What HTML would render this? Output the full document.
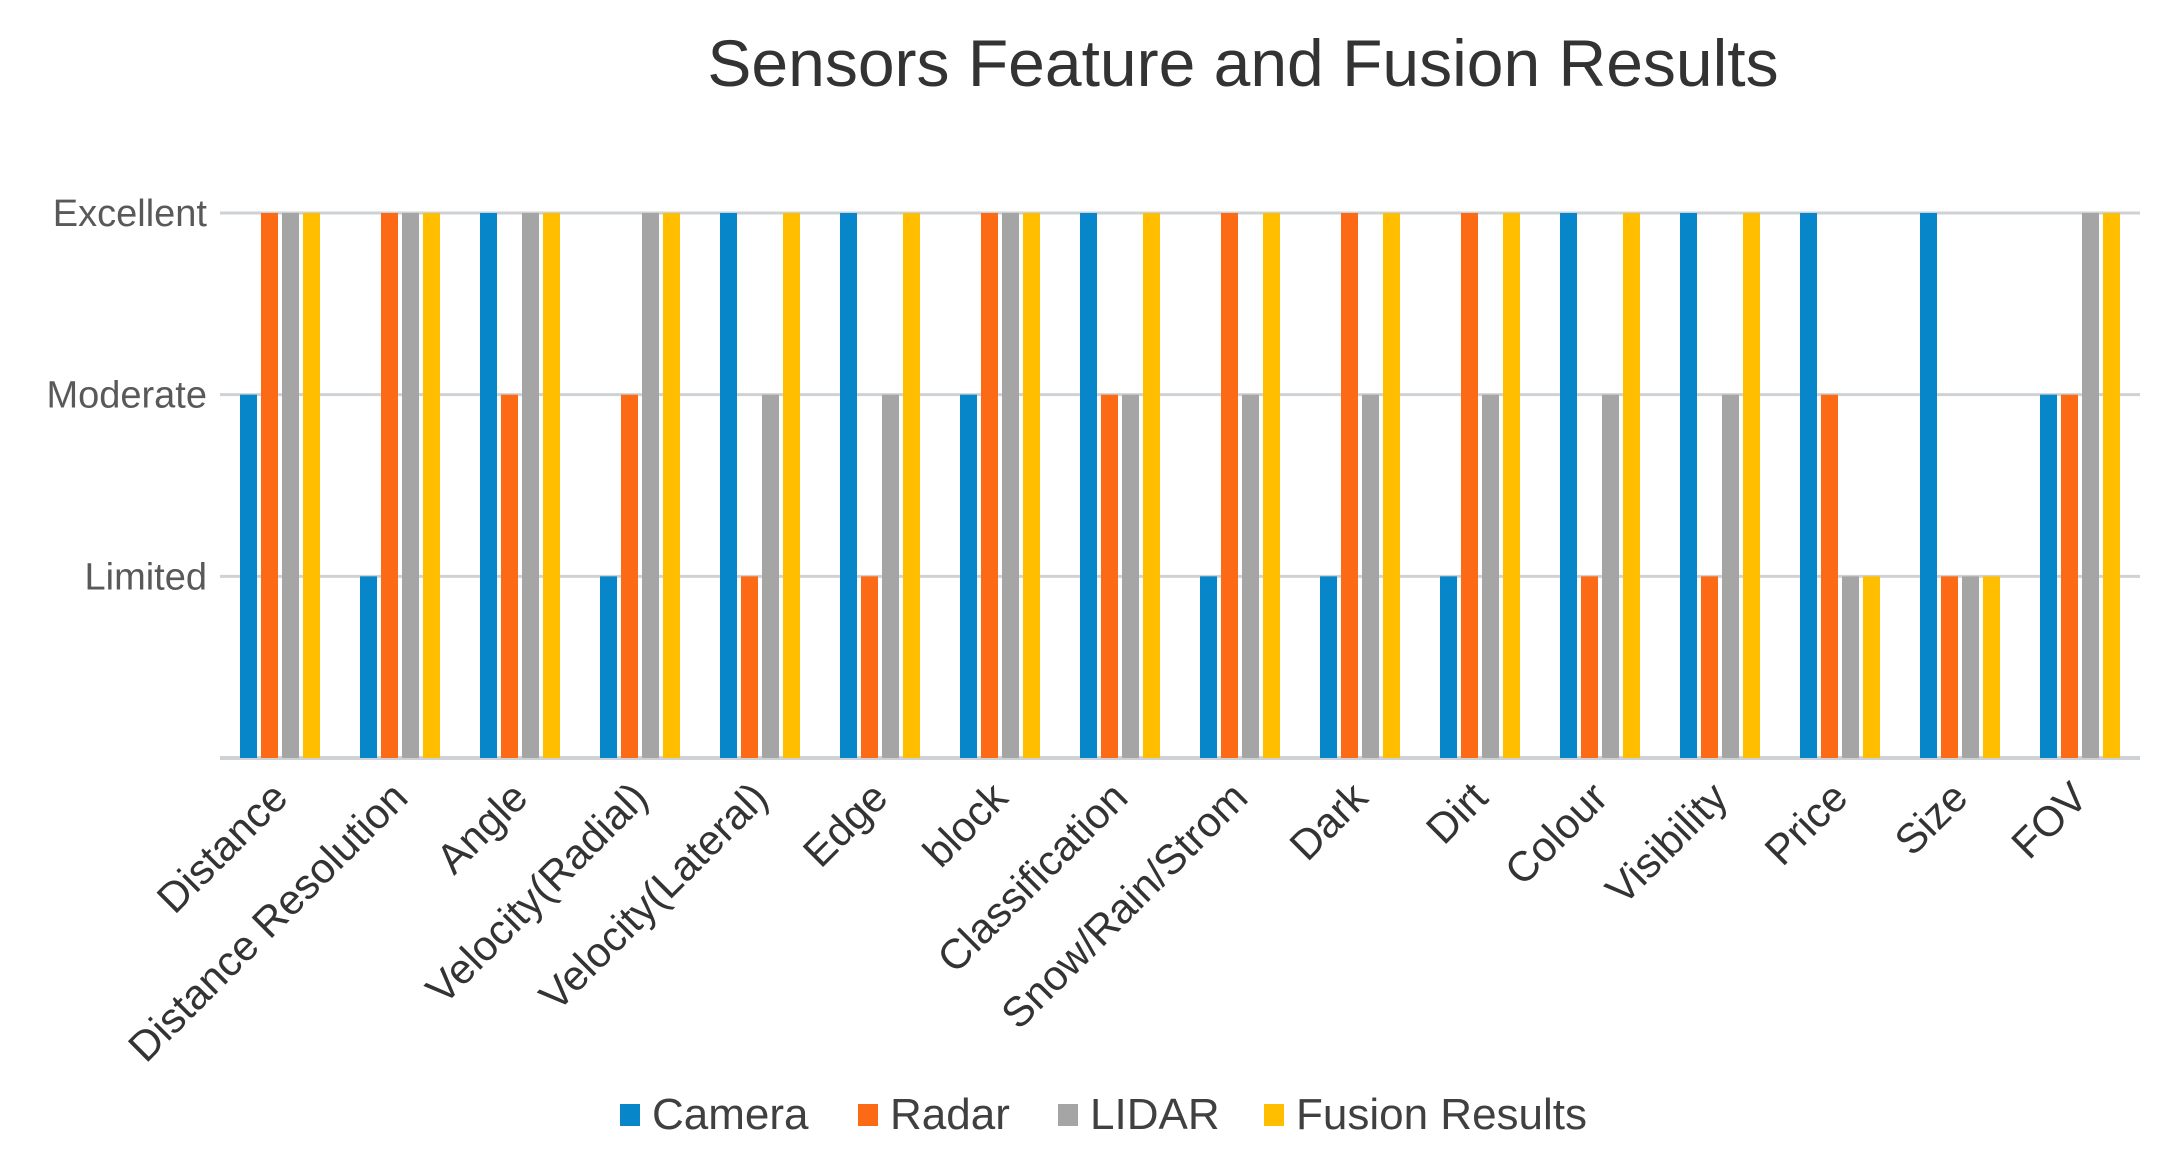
<!DOCTYPE html>
<html><head><meta charset="utf-8"><style>
html,body{margin:0;padding:0;background:#fff;width:2172px;height:1165px;overflow:hidden}
svg{display:block;font-family:"Liberation Sans",sans-serif}
</style></head><body>
<svg id="chart" width="2172" height="1165" viewBox="0 0 2172 1165">
<text x="1243" y="86" text-anchor="middle" font-size="66" fill="#333">Sensors Feature and Fusion Results</text>
<g id="grid"></g>
<g id="ylabels"></g>
<g id="bars"></g>
<g id="xlabels"></g>
<g id="legend"></g>
</svg>
<script>
const categories = ["Distance","Distance Resolution","Angle","Velocity(Radial)","Velocity(Lateral)","Edge","block","Classification","Snow/Rain/Strom","Dark","Dirt","Colour","Visibility","Price","Size","FOV"];
const camera = [2,1,3,1,3,3,2,3,1,1,1,3,3,3,3,2];
const radar  = [3,3,2,2,1,1,3,2,3,3,3,1,1,2,1,2];
const lidar  = [3,3,3,3,2,2,3,2,2,2,2,2,2,1,1,3];
const fusion = [3,3,3,3,3,3,3,3,3,3,3,3,3,1,1,3];
const seriesNames = ["Camera","Radar","LIDAR","Fusion Results"];
const yTickLabels = ["Limited","Moderate","Excellent"];
const yTickValues = [1,2,3];

const NS="http://www.w3.org/2000/svg";
const colors=["#0787c9","#fd6a16","#a5a5a5","#ffbf00"];
const series=[camera,radar,lidar,fusion];
const x0=220,x1=2140,base=758,top3=213;
const bandW=(x1-x0)/categories.length;
function yScale(v){return base-(base-top3)*v/3;}
function xCenter(i){return x0+bandW*(i+0.5);}
function mk(tag,attrs,parent){const e=document.createElementNS(NS,tag);for(const k in attrs)e.setAttribute(k,attrs[k]);parent.appendChild(e);return e;}

const grid=document.getElementById('grid');
const yl=document.getElementById('ylabels');
[0].concat(yTickValues).forEach((v,j)=>{
  const l=mk('line',{x1:x0,x2:x1,y1:yScale(v),y2:yScale(v),stroke:'#cfd2d5','stroke-width':v===0?4:3},grid);
  
  
});
yTickValues.forEach((v,j)=>{
  const t=mk('text',{x:207,y:yScale(v)+13,'text-anchor':'end','font-size':38,fill:'#595959'},yl);
  t.textContent=yTickLabels[j];
  
  
});
const bars=document.getElementById('bars');
const barW=17,step=21;
categories.forEach((c,i)=>{
  const left=xCenter(i)-(step*3+barW)/2;
  series.forEach((s,k)=>{
    const r=mk('rect',{x:left+k*step,y:yScale(s[i]),width:barW,height:base-yScale(s[i]),fill:colors[k]},bars);
    
    
  });
});
const xl=document.getElementById('xlabels');
categories.forEach((c,i)=>{
  const x=xCenter(i)+10,y=800;
  const t=mk('text',{x:x,y:y,'text-anchor':'end','font-size':42,fill:'#333',transform:`rotate(-45 ${x} ${y})`},xl);
  t.textContent=c;
  
  
});
const lg=document.getElementById('legend');
const lx=[620,858,1058,1264];
seriesNames.forEach((n,k)=>{
  const r=mk('rect',{x:lx[k],y:1104,width:20,height:22,fill:colors[k]},lg);
  
  
  const t=mk('text',{x:lx[k]+32,y:1129,'font-size':44,fill:'#404040'},lg);
  t.textContent=n;
  
  
});
</script>
</body></html>
